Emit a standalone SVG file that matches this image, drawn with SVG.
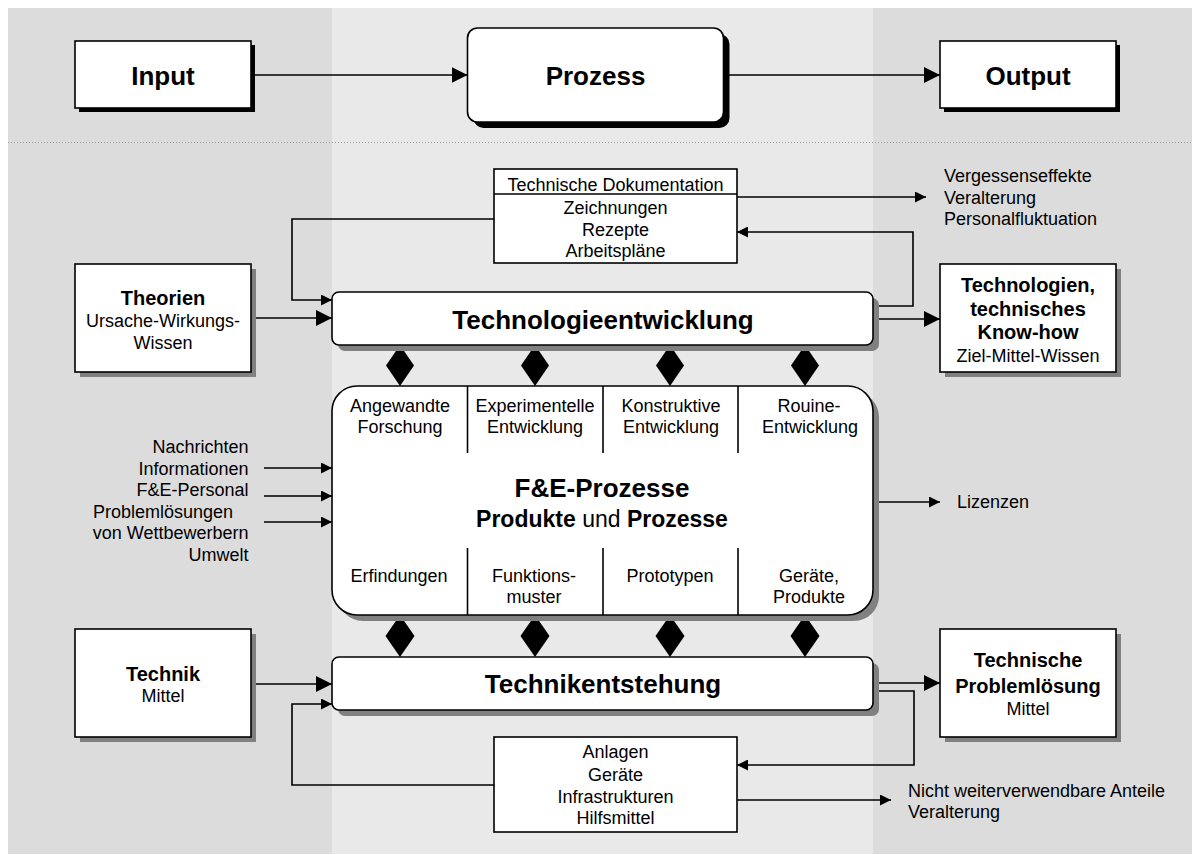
<svg xmlns="http://www.w3.org/2000/svg" width="1192" height="855" viewBox="0 0 1192 855">
  <style>
    text { font-family: "Liberation Sans", Arial, Helvetica, sans-serif; fill: #000; }
    .r { font-size: 18px; }
    .b { font-size: 20px; font-weight: bold; }
    .h { font-size: 26px; font-weight: bold; }
    .c { text-anchor: middle; }
    .e { text-anchor: end; }
    .box { fill: #fff; stroke: #000; stroke-width: 1.6; }
    .shk { fill: #000; }
    .shg { fill: #808080; }
    .line { fill: none; stroke: #000; stroke-width: 1.6; }
    .big { marker-end: url(#arrowBig); }
    .small { marker-end: url(#arrowSmall); }
    .dia { fill: #000; stroke: none; }
  </style>
  <defs>
    <marker id="arrowBig" markerUnits="userSpaceOnUse" markerWidth="17" markerHeight="16" refX="16" refY="8" orient="auto">
      <path d="M0,0 L16,8 L0,16 Z" fill="#000"/>
    </marker>
    <marker id="arrowSmall" markerUnits="userSpaceOnUse" markerWidth="12" markerHeight="11" refX="11" refY="5.5" orient="auto">
      <path d="M0,0 L11,5.5 L0,11 Z" fill="#000"/>
    </marker>
  </defs>

  <!-- background bands -->
  <g id="background">
    <rect x="8" y="8" width="324" height="846" fill="#dcdcdc"/>
    <rect x="332" y="8" width="541" height="846" fill="#e9e9e9"/>
    <rect x="873" y="8" width="319" height="846" fill="#dcdcdc"/>
    <line x1="8" y1="142.5" x2="1192" y2="142.5" stroke="#9a9a9a" stroke-width="1" stroke-dasharray="1,2"/>
  </g>

  <!-- connectors -->
  <g id="connectors">
    <path class="line big" d="M251.5,75 H467.5"/>
    <path class="line big" d="M723.5,75 H940"/>
    <path class="line small" d="M494,219 H292 V300 H332"/>
    <path class="line big" d="M251,318 H332"/>
    <path class="line big" d="M873,319 H940"/>
    <path class="line small" d="M873,306 H913 V232 H737"/>
    <path class="line small" d="M737,197 H926"/>
    <path class="line small" d="M264,468 H332"/>
    <path class="line small" d="M264,496 H332"/>
    <path class="line small" d="M264,522 H332"/>
    <path class="line small" d="M873,502 H940"/>
    <path class="line big" d="M251,684 H332"/>
    <path class="line small" d="M494,785 H292 V704 H332"/>
    <path class="line big" d="M873,683 H940"/>
    <path class="line small" d="M873,691 H914 V765 H737"/>
    <path class="line small" d="M737,800 H891"/>
    <path class="dia" d="M400,345 L414,365.5 L400,386 L386,365.5 Z"/>
    <path class="dia" d="M535,345 L549,365.5 L535,386 L521,365.5 Z"/>
    <path class="dia" d="M670,345 L684,365.5 L670,386 L656,365.5 Z"/>
    <path class="dia" d="M805,345 L819,365.5 L805,386 L791,365.5 Z"/>
    <path class="dia" d="M400,615 L414.5,636 L400,657 L385.5,636 Z"/>
    <path class="dia" d="M535,615 L549.5,636 L535,657 L520.5,636 Z"/>
    <path class="dia" d="M670,615 L684.5,636 L670,657 L655.5,636 Z"/>
    <path class="dia" d="M805,615 L819.5,636 L805,657 L790.5,636 Z"/>
  </g>

  <g id="input">
    <rect class="shk" x="79" y="45" width="176" height="67"/>
    <rect class="box" x="75" y="41" width="176" height="67"/>
    <text class="h c" x="163" y="84.5">Input</text>
  </g>

  <g id="prozess">
    <rect class="shk" x="473.5" y="34" width="256" height="94" rx="10"/>
    <rect class="box" x="467.5" y="28" width="256" height="94" rx="10"/>
    <text class="h c" x="595.5" y="84.5">Prozess</text>
  </g>

  <g id="output">
    <rect class="shk" x="944" y="45" width="176" height="67"/>
    <rect class="box" x="940" y="41" width="176" height="67"/>
    <text class="h c" x="1028" y="84.5">Output</text>
  </g>

  <g id="dokumentation">
    <rect class="box" x="494" y="169" width="243" height="94"/>
    <line x1="494" y1="194" x2="737" y2="194" stroke="#000" stroke-width="1.6"/>
    <text class="r c" x="615.5" y="191">Technische Dokumentation</text>
    <text class="r c" x="615.5" y="213.5">Zeichnungen</text>
    <text class="r c" x="615.5" y="235.5">Rezepte</text>
    <text class="r c" x="615.5" y="257">Arbeitspläne</text>
  </g>

  <g id="verlust-oben">
    <text class="r" x="944" y="181.5">Vergessenseffekte</text>
    <text class="r" x="944" y="203.5">Veralterung</text>
    <text class="r" x="944" y="225">Personalfluktuation</text>
  </g>

  <g id="theorien">
    <rect class="shg" x="80" y="269" width="176" height="108"/>
    <rect class="box" x="75" y="264" width="176" height="108"/>
    <text class="b c" x="163" y="305">Theorien</text>
    <text class="r c" x="163" y="327">Ursache-Wirkungs-</text>
    <text class="r c" x="163" y="348.5">Wissen</text>
  </g>

  <g id="technologieentwicklung">
    <rect class="shg" x="338" y="298" width="541" height="53" rx="7"/>
    <rect class="box" x="332" y="292" width="541" height="53" rx="7"/>
    <text class="h c" x="603" y="328.5">Technologieentwicklung</text>
  </g>

  <g id="technologien">
    <rect class="shg" x="945" y="269" width="176" height="108"/>
    <rect class="box" x="940" y="264" width="176" height="108"/>
    <text class="b c" x="1028" y="291.5">Technologien,</text>
    <text class="b c" x="1028" y="315.5">technisches</text>
    <text class="b c" x="1028" y="339">Know-how</text>
    <text class="r c" x="1028" y="361.5">Ziel-Mittel-Wissen</text>
  </g>

  <g id="fue-prozesse">
    <rect class="shg" x="338" y="392" width="541" height="229" rx="25"/>
    <rect class="box" x="332" y="386" width="541" height="229" rx="25"/>
    <g stroke="#000" stroke-width="1.6">
      <line x1="467.5" y1="386" x2="467.5" y2="453"/>
      <line x1="603" y1="386" x2="603" y2="453"/>
      <line x1="738" y1="386" x2="738" y2="453"/>
      <line x1="467.5" y1="548" x2="467.5" y2="615"/>
      <line x1="603" y1="548" x2="603" y2="615"/>
      <line x1="738" y1="548" x2="738" y2="615"/>
    </g>
    <text class="r c" x="400" y="411.5">Angewandte</text>
    <text class="r c" x="400" y="433">Forschung</text>
    <text class="r c" x="535" y="411.5">Experimentelle</text>
    <text class="r c" x="535" y="433">Entwicklung</text>
    <text class="r c" x="671" y="411.5">Konstruktive</text>
    <text class="r c" x="671" y="433">Entwicklung</text>
    <text class="r c" x="809" y="411.5">Rouine-</text>
    <text class="r c" x="810" y="433">Entwicklung</text>
    <text class="h c" x="602" y="497">F&amp;E-Prozesse</text>
    <text class="c" x="602" y="526.5" style="font-size:23px"><tspan font-weight="bold">Produkte</tspan> und <tspan font-weight="bold">Prozesse</tspan></text>
    <text class="r c" x="399" y="581.5">Erfindungen</text>
    <text class="r c" x="534" y="581.5">Funktions-</text>
    <text class="r c" x="534" y="602.5">muster</text>
    <text class="r c" x="670" y="581.5">Prototypen</text>
    <text class="r c" x="809" y="581.5">Geräte,</text>
    <text class="r c" x="809" y="602.5">Produkte</text>
  </g>

  <g id="umwelt-input">
    <text class="r e" x="248.5" y="453">Nachrichten</text>
    <text class="r e" x="248.5" y="474.5">Informationen</text>
    <text class="r e" x="248.5" y="496">F&amp;E-Personal</text>
    <text class="r" x="93" y="517.5">Problemlösungen</text>
    <text class="r e" x="248.5" y="539">von Wettbewerbern</text>
    <text class="r e" x="248.5" y="561">Umwelt</text>
  </g>

  <g id="lizenzen">
    <text class="r" x="957" y="508">Lizenzen</text>
  </g>

  <g id="technik">
    <rect class="shg" x="80" y="634" width="176" height="108"/>
    <rect class="box" x="75" y="629" width="176" height="108"/>
    <text class="b c" x="163" y="680.5">Technik</text>
    <text class="r c" x="163" y="701.5">Mittel</text>
  </g>

  <g id="technikentstehung">
    <rect class="shg" x="338" y="663" width="541" height="53" rx="7"/>
    <rect class="box" x="332" y="657" width="541" height="53" rx="7"/>
    <text class="h c" x="603" y="692.5">Technikentstehung</text>
  </g>

  <g id="problemloesung">
    <rect class="shg" x="945" y="634" width="176" height="108"/>
    <rect class="box" x="940" y="629" width="176" height="108"/>
    <text class="b c" x="1028" y="667">Technische</text>
    <text class="b c" x="1028" y="693">Problemlösung</text>
    <text class="r c" x="1028" y="715">Mittel</text>
  </g>

  <g id="anlagen">
    <rect class="box" x="494" y="737" width="243" height="95"/>
    <text class="r c" x="615.5" y="758">Anlagen</text>
    <text class="r c" x="615.5" y="780.5">Geräte</text>
    <text class="r c" x="615.5" y="802.5">Infrastrukturen</text>
    <text class="r c" x="615.5" y="823.5">Hilfsmittel</text>
  </g>

  <g id="verlust-unten">
    <text class="r" x="908" y="796.5">Nicht weiterverwendbare Anteile</text>
    <text class="r" x="908" y="818">Veralterung</text>
  </g>
</svg>
